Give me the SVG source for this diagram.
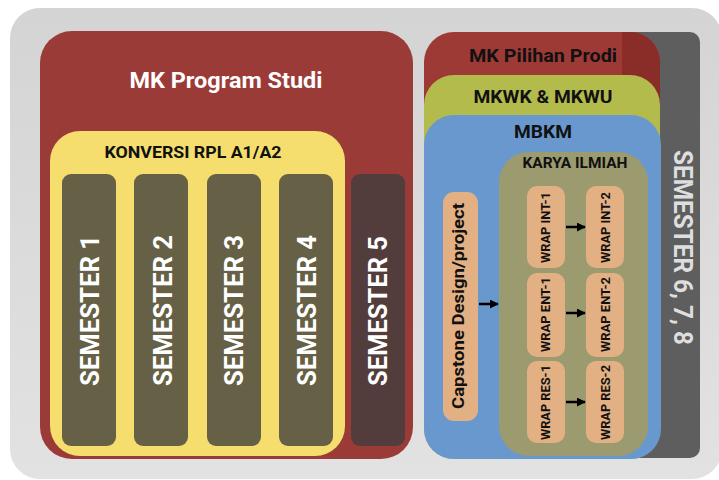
<svg xmlns="http://www.w3.org/2000/svg" width="719" height="480" viewBox="0 0 719 480">
<defs>
<linearGradient id="bg" x1="0" y1="0" x2="0" y2="1">
<stop offset="0" stop-color="#d4d4d4"/>
<stop offset="1" stop-color="#e2e2e2"/>
</linearGradient>
<clipPath id="redclip"><rect x="424" y="32" width="236" height="200" rx="30"/></clipPath>
<marker id="ah" viewBox="0 0 10 10" refX="9" refY="5" markerWidth="3.6" markerHeight="3.6" orient="auto" markerUnits="strokeWidth">
<path d="M0,0 L10,5 L0,10 z" fill="#000"/>
</marker>
<style>
text{font-family:Roboto,"Liberation Sans",Arial,sans-serif;font-weight:bold;text-anchor:middle}
.w{fill:#ffffff}
.k{fill:#111111}
.sem{fill:#666046}
.wrap{fill:#e3b083}
.conn{stroke:#000;stroke-width:2.5;fill:none;marker-end:url(#ah)}
</style>
</defs>
<rect x="0" y="0" width="719" height="480" fill="#ffffff"/>
<rect id="background" x="10" y="8" width="712" height="471" rx="30" fill="url(#bg)"/>

<g id="mk-program-studi">
<rect x="40" y="31" width="373" height="428" rx="32" fill="#9b3b37"/>
<text class="w" x="226" y="88" font-size="22" textLength="193" lengthAdjust="spacingAndGlyphs">MK Program Studi</text>
</g>
<g id="konversi">
<rect x="50" y="131" width="295" height="325" rx="30" fill="#f5dd6e"/>
<text class="k" x="193" y="158" font-size="16.5" textLength="177" lengthAdjust="spacingAndGlyphs">KONVERSI RPL A1/A2</text>
</g>
<g id="semester-1">
<rect class="sem" x="62" y="174" width="54" height="272" rx="9"/>
<text class="w" transform="translate(99,310.5) rotate(-90)" font-size="26" textLength="151" lengthAdjust="spacingAndGlyphs">SEMESTER 1</text>
</g>
<g id="semester-2">
<rect class="sem" x="134" y="174" width="54" height="272" rx="9"/>
<text class="w" transform="translate(172,310.5) rotate(-90)" font-size="26" textLength="151" lengthAdjust="spacingAndGlyphs">SEMESTER 2</text>
</g>
<g id="semester-3">
<rect class="sem" x="207" y="174" width="54" height="272" rx="9"/>
<text class="w" transform="translate(243,310.5) rotate(-90)" font-size="26" textLength="151" lengthAdjust="spacingAndGlyphs">SEMESTER 3</text>
</g>
<g id="semester-4">
<rect class="sem" x="279" y="174" width="54" height="272" rx="9"/>
<text class="w" transform="translate(316,310.5) rotate(-90)" font-size="26" textLength="151" lengthAdjust="spacingAndGlyphs">SEMESTER 4</text>
</g>
<g id="semester-5">
<rect x="351" y="174" width="54" height="272" rx="9" fill="#523d3c"/>
<text class="w" transform="translate(387,311) rotate(-90)" font-size="26" textLength="150" lengthAdjust="spacingAndGlyphs">SEMESTER 5</text>
</g>

<g id="semester-6-7-8">
<rect x="622" y="32" width="78" height="426" rx="10" fill="#5e5e5e"/>
<text transform="translate(674,247.5) rotate(90)" font-size="25" fill="#dedede" textLength="195" lengthAdjust="spacingAndGlyphs">SEMESTER 6, 7, 8</text>
</g>
<g id="mk-pilihan-prodi">
<rect x="424" y="32" width="236" height="200" rx="30" fill="#9e3a36"/>
<rect x="622" y="32" width="40" height="200" fill="#8a2d29" clip-path="url(#redclip)"/>
<text class="k" x="543" y="62" font-size="18" textLength="148" lengthAdjust="spacingAndGlyphs">MK Pilihan Prodi</text>
</g>
<g id="mkwk-mkwu">
<rect x="424" y="75" width="236" height="384" rx="30" fill="#b4bb4d"/>
<text class="k" x="543" y="103" font-size="18" textLength="139" lengthAdjust="spacingAndGlyphs">MKWK &amp; MKWU</text>
</g>
<g id="mbkm">
<rect x="424" y="115" width="237" height="344" rx="30" fill="#6898ce"/>
<text class="k" x="543" y="138" font-size="18.5" textLength="58" lengthAdjust="spacingAndGlyphs">MBKM</text>
</g>
<g id="capstone">
<rect class="wrap" x="443" y="192" width="35" height="229" rx="11"/>
<text class="k" transform="translate(464,306) rotate(-90)" font-size="16" textLength="206" lengthAdjust="spacingAndGlyphs">Capstone Design/project</text>
</g>
<g id="karya-ilmiah">
<rect x="499" y="152" width="149" height="304" rx="30" fill="#9b9b6f"/>
<text class="k" x="575" y="168" font-size="14.5" textLength="105" lengthAdjust="spacingAndGlyphs">KARYA ILMIAH</text>
</g>
<g id="wrap-int-1">
<rect class="wrap" x="527" y="186" width="38" height="82" rx="10"/>
<text class="k" transform="translate(550,227.5) rotate(-90)" font-size="13" textLength="71" lengthAdjust="spacingAndGlyphs">WRAP INT-1</text>
</g>
<g id="wrap-int-2">
<rect class="wrap" x="586" y="186" width="38" height="82" rx="10"/>
<text class="k" transform="translate(610,227.5) rotate(-90)" font-size="13" textLength="71" lengthAdjust="spacingAndGlyphs">WRAP INT-2</text>
</g>
<g id="wrap-ent-1">
<rect class="wrap" x="527" y="273" width="38" height="84" rx="10"/>
<text class="k" transform="translate(550,314.5) rotate(-90)" font-size="13" textLength="75" lengthAdjust="spacingAndGlyphs">WRAP ENT-1</text>
</g>
<g id="wrap-ent-2">
<rect class="wrap" x="586" y="273" width="38" height="84" rx="10"/>
<text class="k" transform="translate(610,314.5) rotate(-90)" font-size="13" textLength="75" lengthAdjust="spacingAndGlyphs">WRAP ENT-2</text>
</g>
<g id="wrap-res-1">
<rect class="wrap" x="527" y="361" width="38" height="82" rx="10"/>
<text class="k" transform="translate(550,402.5) rotate(-90)" font-size="13" textLength="75" lengthAdjust="spacingAndGlyphs">WRAP RES-1</text>
</g>
<g id="wrap-res-2">
<rect class="wrap" x="586" y="361" width="38" height="82" rx="10"/>
<text class="k" transform="translate(610,402.5) rotate(-90)" font-size="13" textLength="75" lengthAdjust="spacingAndGlyphs">WRAP RES-2</text>
</g>

<g id="connectors">
<line class="conn" x1="479" y1="304" x2="498" y2="304"/>
<line class="conn" x1="566" y1="227" x2="585" y2="227"/>
<line class="conn" x1="566" y1="313" x2="585" y2="313"/>
<line class="conn" x1="566" y1="402" x2="585" y2="402"/>
</g>
</svg>
